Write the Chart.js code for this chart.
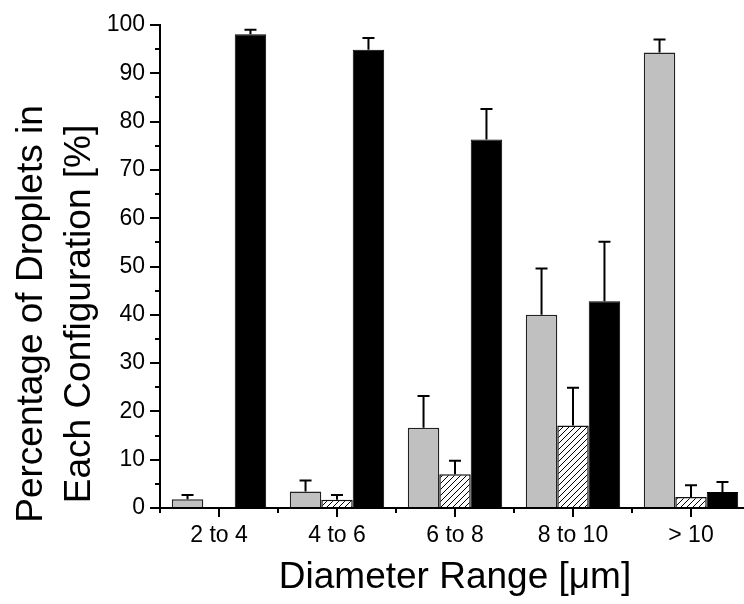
<!DOCTYPE html>
<html>
<head>
<meta charset="utf-8">
<script src="https://cdn.jsdelivr.net/npm/chart.js@4.4.0/dist/chart.umd.min.js"></script>
<style>
    html, body { margin: 0; padding: 0; overflow: hidden; background: #fff; }
    #wrap { width: 744px; height: 604px; overflow: hidden; }
</style>
</head>
<body>
<div id="wrap"><canvas id="chart" width="752" height="604"></canvas></div>
<script>
const categories = ['2 to 4', '4 to 6', '6 to 8', '8 to 10', '> 10'];

const grayValues = [1.8, 3.4, 16.6, 40.0, 94.3];
const grayErrors = [0.9, 2.3, 6.6, 9.6, 2.7];

const hatchedValues = [null, 1.7, 7.0, 17.1, 2.3];
const hatchedErrors = [null, 1.0, 2.8, 7.8, 2.4];

const blackValues = [98.1, 94.9, 76.3, 42.8, 3.3];
const blackErrors = [0.9, 2.4, 6.3, 12.3, 2.1];

const yMinorTicks = [5, 15, 25, 35, 45, 55, 65, 75, 85, 95];

const yTitleLines = ['Percentage of Droplets in', 'Each Configuration [%]'];

const FONT = "'Liberation Sans', Arial, sans-serif";
Chart.defaults.font.family = FONT;
Chart.defaults.color = '#000';

const canvas = document.getElementById('chart');
const ctx = canvas.getContext('2d');

function hatchPattern() {
    const c = document.createElement('canvas');
    c.width = 6; c.height = 6;
    const g = c.getContext('2d');
    g.fillStyle = '#fff';
    g.fillRect(0, 0, 6, 6);
    g.strokeStyle = '#000';
    g.lineWidth = 1;
    g.beginPath();
    g.moveTo(0, 6); g.lineTo(6, 0);
    g.moveTo(-1, 1); g.lineTo(1, -1);
    g.moveTo(5, 7); g.lineTo(7, 5);
    g.stroke();
    return ctx.createPattern(c, 'repeat');
}

// error bars (upper only), minor ticks and the two-line y title
const extrasPlugin = {
    id: 'extras',
    afterDatasetsDraw(chart) {
        const y = chart.scales.y;
        const c = chart.ctx;
        c.save();
        c.strokeStyle = '#000';
        c.lineWidth = 2;
        chart.data.datasets.forEach((ds, di) => {
            const meta = chart.getDatasetMeta(di);
            ds.errors.forEach((err, i) => {
                const v = ds.data[i];
                if (v == null || err == null) return;
                const bar = meta.data[i];
                const top = y.getPixelForValue(v + err);
                c.beginPath();
                c.moveTo(bar.x, bar.y);
                c.lineTo(bar.x, top);
                c.moveTo(bar.x - 6, top);
                c.lineTo(bar.x + 6, top);
                c.stroke();
            });
        });
        c.restore();
    },
    afterDraw(chart) {
        const { x, y } = chart.scales;
        const area = chart.chartArea;
        const c = chart.ctx;
        c.save();
        c.strokeStyle = '#000';
        c.lineWidth = 2;
        c.beginPath();
        yMinorTicks.forEach(v => {
            const py = Math.round(y.getPixelForValue(v));
            c.moveTo(area.left - 5, py);
            c.lineTo(area.left, py);
        });
        const step = x.getPixelForValue(1) - x.getPixelForValue(0);
        for (let i = 0; i <= categories.length; i++) {
            const px = Math.round(x.getPixelForValue(i) - step / 2);
            c.moveTo(px, area.bottom);
            c.lineTo(px, area.bottom + 5);
        }
        c.stroke();

        c.fillStyle = '#000';
        c.font = '37px ' + FONT;
        c.textAlign = 'center';
        c.textBaseline = 'alphabetic';
        c.translate(42, 314);
        c.rotate(-Math.PI / 2);
        c.fillText(yTitleLines[0], 0, 0);
        c.fillText(yTitleLines[1], 0, 48);
        c.restore();
    }
};

new Chart(ctx, {
    type: 'bar',
    data: {
        labels: categories,
        datasets: [
            { data: grayValues, errors: grayErrors, backgroundColor: '#c0c0c0', borderColor: '#222', borderWidth: 1.5 },
            { data: hatchedValues, errors: hatchedErrors, backgroundColor: hatchPattern(), borderColor: '#111', borderWidth: 1.5 },
            { data: blackValues, errors: blackErrors, backgroundColor: '#000', borderColor: '#000', borderWidth: 1 }
        ]
    },
    options: {
        responsive: false,
        animation: false,
        layout: { padding: { top: 25, right: 2, left: 0, bottom: 0 } },
        plugins: { legend: { display: false }, tooltip: { enabled: false } },
        datasets: { bar: { categoryPercentage: 0.8, barPercentage: 1.0 } },
        scales: {
            x: {
                grid: { drawOnChartArea: false, offset: false, tickLength: 9, color: '#000', lineWidth: 2 },
                border: { color: '#000', width: 2 },
                ticks: { color: '#000', font: { size: 23 }, padding: 5, maxRotation: 0, autoSkip: false },
                title: { display: true, text: 'Diameter Range [μm]', color: '#000', font: { size: 37 }, padding: { top: 0, bottom: 4 } },
                afterFit(s) { s.height = 96; }
            },
            y: {
                min: 0, max: 100,
                ticks: { stepSize: 10, color: '#000', font: { size: 23 }, padding: 5 },
                grid: { drawOnChartArea: false, tickLength: 10, color: '#000', lineWidth: 2 },
                border: { color: '#000', width: 2 },
                afterFit(s) { s.width = 160; }
            }
        }
    },
    plugins: [extrasPlugin]
});
</script>
</body>
</html>
